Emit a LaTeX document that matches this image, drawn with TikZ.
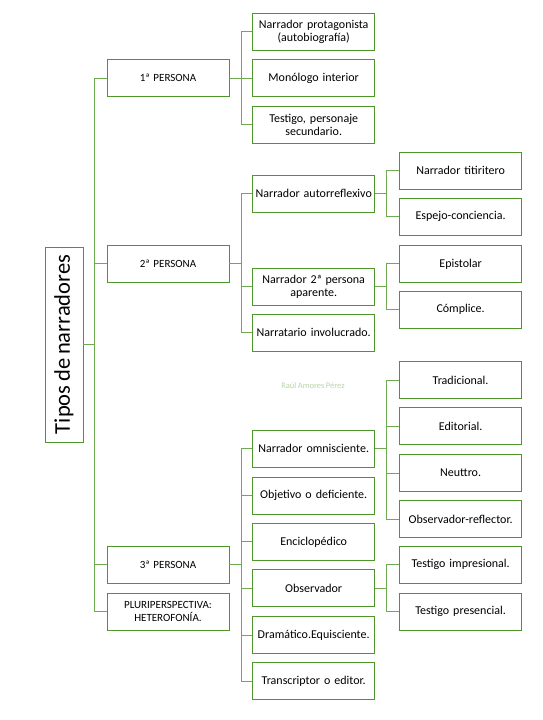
\documentclass[tikz,border=0pt]{standalone}
\usepackage{fontspec}
\setmainfont{Carlito}[WordSpace=0.75]
\definecolor{boxgreen}{RGB}{78,150,44}
\definecolor{linegreen}{RGB}{110,170,80}
\definecolor{wmark}{RGB}{185,210,170}
\begin{document}
\begin{tikzpicture}[x=1pt,y=-1pt,
  every node/.style={inner sep=1pt},
  box/.style={draw=boxgreen,line width=0.8pt,fill=white,minimum height=37pt,align=center,font=\fontsize{12}{13}\selectfont},
  lone/.style={box,minimum width=122pt,text width=118pt,font=\fontsize{11}{13}\selectfont},
  ltwo/.style={box,minimum width=121pt,text width=120pt},
  lthree/.style={box,minimum width=122.5pt,text width=120pt},
  conn/.style={draw=linegreen,line width=0.8pt}]
\useasboundingbox (0,0) rectangle (543,720);

% root
\node[draw=boxgreen,line width=0.8pt,minimum width=38pt,minimum height=195pt] (root) at (64,344.5) {};
\node[rotate=90,font=\fontsize{22.5}{26}\selectfont] (roottxt) at (root.center) {Tipos de narradores};

% level 1
\node[lone] (p1) at (168,78) {1ª PERSONA};
\node[lone] (p2) at (168,263.8) {2ª PERSONA};
\node[lone] (p3) at (168,564.7) {3ª PERSONA};
\node[lone] (pl) at (168,611.7) {PLURIPERSPECTIVA:\\HETEROFONÍA.};

% level 2 - 1P
\node[ltwo] (a1) at (313.7,31.8) {Narrador protagonista\\(autobiografía)};
\node[ltwo] (a2) at (313.7,78) {Monólogo interior};
\node[ltwo] (a3) at (313.7,124.5) {Testigo, personaje\\secundario.};

% level 2 - 2P
\node[ltwo] (b1) at (313.7,193.7) {Narrador autorreflexivo};
\node[ltwo] (b2) at (313.7,286.7) {Narrador 2ª persona\\aparente.};
\node[ltwo] (b3) at (313.7,332.7) {Narratario involucrado.};

% level 3 - 2P
\node[lthree] (b11) at (460.6,170.8) {Narrador titiritero};
\node[lthree] (b12) at (460.6,216.8) {Espejo-conciencia.};
\node[lthree] (b21) at (460.6,263.8) {Epistolar};
\node[lthree] (b22) at (460.6,309.7) {Cómplice.};

% level 2 - 3P
\node[ltwo] (c1) at (313.7,448.8) {Narrador omnisciente.};
\node[ltwo] (c2) at (313.7,495.7) {Objetivo o deficiente.};
\node[ltwo] (c3) at (313.7,541.8) {Enciclopédico};
\node[ltwo] (c4) at (313.7,588) {Observador};
\node[ltwo] (c5) at (313.7,635) {Dramático.Equisciente.};
\node[ltwo] (c6) at (313.7,681) {Transcriptor o editor.};

% level 3 - 3P
\node[lthree] (c11) at (460.6,380) {Tradicional.};
\node[lthree] (c12) at (460.6,426) {Editorial.};
\node[lthree] (c13) at (460.6,473) {Neuttro.};
\node[lthree] (c14) at (460.6,519) {Observador-reflector.};
\node[lthree] (c41) at (460.6,564.7) {Testigo impresional.};
\node[lthree] (c42) at (460.6,611.8) {Testigo presencial.};

% watermark
\node[text=wmark,font=\fontsize{8.5}{10}\selectfont] (wm) at (313,386) {Raúl Amores Pérez};

% connectors
\coordinate (t0) at (94.3,344.5);
\draw[conn] (root.east) -- (t0);
\draw[conn] (p1.west) -| (t0);
\draw[conn] (pl.west) -| (t0);
\foreach \n in {p2,p3} \draw[conn] (\n.west) -- (t0 |- \n.west);

\coordinate (j1) at (241,78);
\draw[conn] (p1.east) -- (j1);
\draw[conn] (a1.west) -| (j1);
\draw[conn] (a3.west) -| (j1);
\draw[conn] (a2.west) -- (j1);

\coordinate (j2) at (241,263.8);
\draw[conn] (p2.east) -- (j2);
\draw[conn] (b1.west) -| (j2);
\draw[conn] (b3.west) -| (j2);
\draw[conn] (b2.west) -- (j2 |- b2.west);

\coordinate (j3) at (241,564.7);
\draw[conn] (p3.east) -- (j3);
\draw[conn] (c1.west) -| (j3);
\draw[conn] (c6.west) -| (j3);
\foreach \n in {c2,c3,c4,c5} \draw[conn] (\n.west) -- (j3 |- \n.west);

\coordinate (k1) at (386.7,193.7);
\draw[conn] (b1.east) -- (k1);
\draw[conn] (b11.west) -| (k1);
\draw[conn] (b12.west) -| (k1);

\coordinate (k2) at (386.7,286.7);
\draw[conn] (b2.east) -- (k2);
\draw[conn] (b21.west) -| (k2);
\draw[conn] (b22.west) -| (k2);

\coordinate (k3) at (386.7,448.8);
\draw[conn] (c1.east) -- (k3);
\draw[conn] (c11.west) -| (k3);
\draw[conn] (c14.west) -| (k3);
\foreach \n in {c12,c13} \draw[conn] (\n.west) -- (k3 |- \n.west);

\coordinate (k4) at (386.7,588);
\draw[conn] (c4.east) -- (k4);
\draw[conn] (c41.west) -| (k4);
\draw[conn] (c42.west) -| (k4);
\end{tikzpicture}
\end{document}
